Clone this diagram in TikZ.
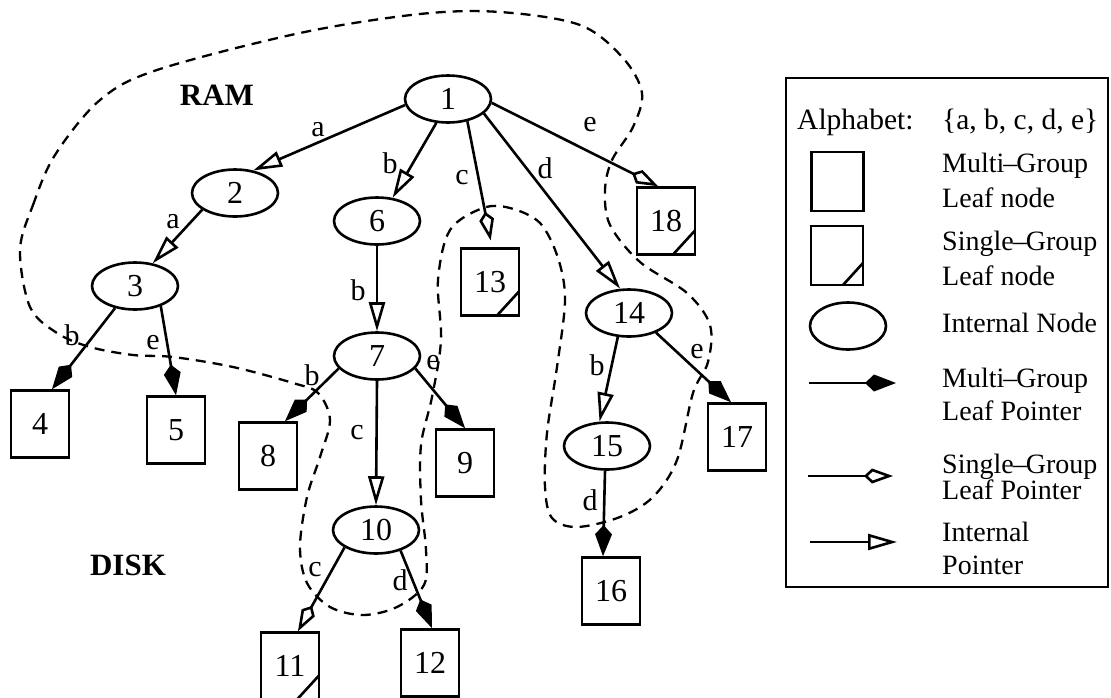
\documentclass[tikz,border=0pt]{standalone}
\usepackage{fontspec}
\setmainfont{Liberation Serif}
\usetikzlibrary{arrows.meta,shapes.geometric}

\newcommand{\gdash}{\kern-1pt--\kern-1pt}

\tikzset{
  every node/.style={font=\fontsize{30}{34}\selectfont},
  inode/.style={draw, ellipse, line width=2.6pt, minimum width=86pt, minimum height=47pt,
    inner sep=0pt, font=\fontsize{32}{34}\selectfont},
  lfbox/.style={draw, rectangle, line width=2.6pt, minimum width=58pt, minimum height=67pt,
    inner sep=0pt, font=\fontsize{32}{34}\selectfont},
  cornercut/.style={path picture={\draw[line width=2.6pt]
      ([xshift=-22pt]path picture bounding box.south east) --
      ([yshift=24pt]path picture bounding box.south east);}},
  sgbox/.style={lfbox, cornercut},
  elabel/.style={inner sep=0pt},
  conn/.style={line width=2.6pt},
  multiptr/.style={conn, -{Kite[length=31pt,width=17pt,inset=9pt]}},
  singleptr/.style={conn, -{Kite[open,length=29pt,width=15pt,inset=8pt]}},
  internalptr/.style={conn, -{Triangle[open,length=29pt,width=16pt]}},
  region/.style={line width=2.3pt, dash pattern=on 10pt off 7pt},
  legtext/.style={anchor=base west, inner sep=0pt, font=\fontsize{28}{32}\selectfont},
}

\begin{document}
\begin{tikzpicture}[x=1pt,y=-1pt]
\useasboundingbox (0,0) rectangle (1111,697);

% boundary between the part kept in RAM and the part on disk
\draw[region] plot[smooth cycle, tension=0.55] coordinates {
  (20,250) (33,205) (55,155) (100,100) (157,70) (300,33) (420,14) (500,12)
  (580,25) (623,58) (642,93) (633,127) (612,160) (605,190) (610,225)
  (640,262) (687,293) (710,325) (708,362) (693,393) (677,460) (653,497)
  (620,517) (577,527) (552,518) (545,487) (547,433) (557,367) (565,300)
  (558,258) (540,223) (510,208) (483,208) (450,230) (438,280) (441,340)
  (432,397) (421,445) (421,500) (426,550) (424,585) (397,607) (363,615)
  (330,607) (307,583) (300,547) (307,497) (320,457) (330,420) (318,393)
  (293,383) (233,367) (173,357) (133,355) (90,347) (57,333) (30,307)};

\node[font=\fontsize{31}{34}\selectfont\bfseries] (ram) at (217,95) {RAM};
\node[font=\fontsize{31}{34}\selectfont\bfseries] (disk) at (128,565) {DISK};

% internal nodes
\node[inode] (n1)  at (448,99)  {1};
\node[inode] (n2)  at (235,193) {2};
\node[inode] (n3)  at (135,286) {3};
\node[inode] (n6)  at (377,221) {6};
\node[inode] (n7)  at (377,356) {7};
\node[inode] (n10) at (376,530) {10};
\node[inode] (n14) at (629,313) {14};
\node[inode] (n15) at (607,446) {15};

% leaf nodes
\node[lfbox] (b4)  at (40,424)  {4};
\node[lfbox] (b5)  at (176,430) {5};
\node[lfbox] (b8)  at (268,456) {8};
\node[lfbox] (b9)  at (465,463) {9};
\node[sgbox] (b11) at (290,666) {11};
\node[lfbox] (b12) at (430,663) {12};
\node[sgbox] (b13) at (490,282) {13};
\node[lfbox] (b16) at (611,591) {16};
\node[lfbox] (b17) at (737,437) {17};
\node[sgbox] (b18) at (666,221) {18};

% pointers
\draw[internalptr] (n1.188) -- (n2.51);
\draw[internalptr] (n1.244) -- (n6.56);
\draw[singleptr, shorten >=7pt] (n1.311) -- ([xshift=2pt]b13.north);
\draw[internalptr] (n1.338) -- (n14.110);
\draw[singleptr] (n1.355) -- ([xshift=-8pt]b18.north);
\draw[internalptr] (n2.207) -- (n3.52);
\draw[multiptr] (n3.228) -- ([xshift=12pt]b4.north);
\draw[multiptr] (n3.322) -- (b5.north);
\draw[internalptr] (n6.south) -- (n7.north);
\draw[multiptr] (n7.198) -- ([xshift=17pt]b8.north);
\draw[multiptr] (n7.342) -- (b9.north);
\draw[internalptr] (n7.south) -- (n10.north);
\draw[singleptr] (n10.209) -- ([xshift=8pt]b11.north);
\draw[multiptr] (n10.320) -- ([xshift=2pt]b12.north);
\draw[internalptr] (n14.245) -- (n15.107);
\draw[multiptr] (n14.324) -- ([xshift=-6pt]b17.north);
\draw[multiptr] ([xshift=-2pt]n15.south) -- ([xshift=-8pt]b16.north);

% pointer labels
\node[elabel] (l1a)  at (318,130) {a};
\node[elabel] (l1b)  at (390,163) {b};
\node[elabel] (l1c)  at (462,178) {c};
\node[elabel] (l1d)  at (545,168) {d};
\node[elabel] (l1e)  at (590,125) {e};
\node[elabel] (l2a)  at (173,222) {a};
\node[elabel] (l3b)  at (72,335)  {b};
\node[elabel] (l3e)  at (153,343) {e};
\node[elabel] (l6b)  at (358,290) {b};
\node[elabel] (l7b)  at (312,375) {b};
\node[elabel] (l7e)  at (433,363) {e};
\node[elabel] (l7c)  at (357,433) {c};
\node[elabel] (l10c) at (315,570) {c};
\node[elabel] (l10d) at (400,580) {d};
\node[elabel] (l14b) at (597,365) {b};
\node[elabel] (l14e) at (697,352) {e};
\node[elabel] (l15d) at (590,500) {d};

% legend
\draw[line width=2.3pt] (786,78) rectangle (1108,587);
\node[legtext, font=\fontsize{29.5}{32}\selectfont] (alpha) at (797,129) {Alphabet:};
\node[legtext, font=\fontsize{29.5}{32}\selectfont] (alset) at (942,129) {\{a, b, c, d, e\}};

\node[draw, rectangle, line width=2.6pt, minimum width=52pt, minimum height=59pt] (kmg) at (837.5,181.5) {};
\node[legtext] (tmg1) at (942,172) {Multi\gdash Group};
\node[legtext] (tmg2) at (942,207) {Leaf node};

\node[draw, rectangle, line width=2.6pt, minimum width=52pt, minimum height=59pt,
  path picture={\draw[line width=2.6pt]
    ([xshift=-20pt]path picture bounding box.south east) --
    ([yshift=22pt]path picture bounding box.south east);}] (ksg) at (837,255.5) {};
\node[legtext] (tsg1) at (942,250) {Single\gdash Group};
\node[legtext] (tsg2) at (942,285) {Leaf node};

\node[draw, ellipse, line width=2.6pt, minimum width=76pt, minimum height=47pt] (kin) at (848,326) {};
\node[legtext] (tin) at (942,332) {Internal Node};

\coordinate (pa1) at (809,383);
\coordinate (pa2) at (896,383);
\draw[multiptr] (pa1) -- (pa2);
\node[legtext] (tmp1) at (942,387) {Multi\gdash Group};
\node[legtext] (tmp2) at (942,420) {Leaf Pointer};

\coordinate (pb1) at (808,476);
\coordinate (pb2) at (893,476);
\draw[singleptr] (pb1) -- (pb2);
\node[legtext] (tsp1) at (942,473) {Single\gdash Group};
\node[legtext] (tsp2) at (942,499) {Leaf Pointer};

\coordinate (pc1) at (810,542);
\coordinate (pc2) at (897,542);
\draw[internalptr] (pc1) -- (pc2);
\node[legtext] (tip1) at (942,541) {Internal};
\node[legtext] (tip2) at (942,574) {Pointer};
\end{tikzpicture}
\end{document}
